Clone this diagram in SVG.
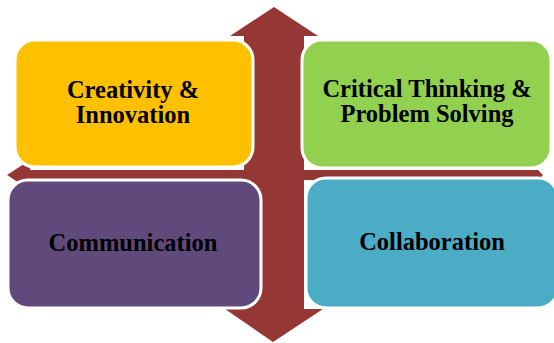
<svg xmlns="http://www.w3.org/2000/svg" width="554" height="343" viewBox="0 0 554 343">
  <style>
    .box { stroke: #ffffff; stroke-width: 3; }
    .label { font-weight: bold; font-size: 24.5px; fill: #000000; text-anchor: middle; }
    .arrow { fill: #953735; }
  </style>
  <rect width="554" height="343" fill="#ffffff"/>
  <!-- four-way arrow behind the matrix -->
  <g id="connectors">
    <polygon class="arrow" points="274,7 318,36 304,36 304,309 323,309 273,342 225,309 244,309 244,36 230,36"/>
    <polygon class="arrow" points="7,175 30,160 30,170 538,170 543,175 538,180 30,180 30,190"/>
  </g>
  <g font-family="'Liberation Serif', 'Times New Roman', 'DejaVu Serif', serif">
    <g id="creativity">
      <rect class="box" x="15" y="40" width="238" height="127" rx="20" fill="#FFC000"/>
      <text class="label" x="133" y="98">Creativity &amp;</text>
      <text class="label" x="133" y="123">Innovation</text>
    </g>
    <g id="critical-thinking">
      <rect class="box" x="302" y="40" width="249" height="128" rx="20" fill="#92D050"/>
      <text class="label" x="427" y="97">Critical Thinking &amp;</text>
      <text class="label" x="427" y="122">Problem Solving</text>
    </g>
    <g id="communication">
      <rect class="box" x="8" y="180" width="253" height="128" rx="20" fill="#604A7B"/>
      <text class="label" x="133" y="251">Communication</text>
    </g>
    <g id="collaboration">
      <rect class="box" x="306" y="178" width="252" height="130" rx="20" fill="#4BACC6"/>
      <text class="label" x="432" y="250">Collaboration</text>
    </g>
  </g>
</svg>
